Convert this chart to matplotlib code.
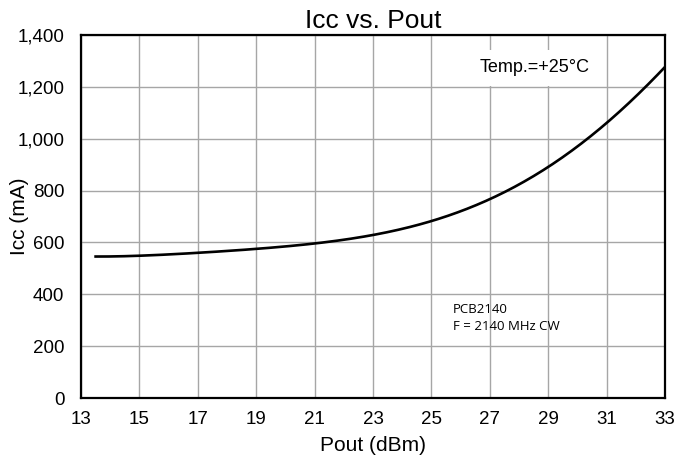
import numpy as np
import matplotlib
matplotlib.use("Agg")
import matplotlib.pyplot as plt
from matplotlib.ticker import FuncFormatter

plt.rcParams['font.family'] = ['Liberation Sans', 'DejaVu Sans']

# datos
pout = [13.5, 15, 17, 19, 21, 23, 25, 27, 29, 31, 33]
icc = [545, 550, 560, 573, 597, 629, 683, 768, 887, 1064, 1276]

fig = plt.figure(figsize=(6.9, 4.58), dpi=100)
ax = fig.add_axes([0.1174, 0.131, 0.8464, 0.7926])

# curva suave a partir de los puntos leidos
p = np.polyfit(pout, icc, 5)
xs = np.linspace(pout[0], pout[-1], 300)
ax.plot(xs, np.polyval(p, xs), color="black", lw=1.9, zorder=3)

ax.set_xlim(13, 33)
ax.set_ylim(0, 1400)
ax.set_xticks(np.arange(13, 34, 2))
ax.set_yticks(np.arange(0, 1401, 200))
ax.yaxis.set_major_formatter(FuncFormatter(lambda v, pos: f"{int(v):,}"))
ax.grid(True, color="#a6a6a6", lw=1.0)
ax.tick_params(axis="x", length=0, labelsize=13.5, pad=9)
ax.tick_params(axis="y", length=0, labelsize=13.5, pad=12)
for s in ax.spines.values():
    s.set_linewidth(1.6)
    s.set_color("black")

ax.set_title("Icc vs. Pout", fontsize=19, pad=5)
ax.set_xlabel("Pout (dBm)", fontsize=15, labelpad=6)
ax.set_ylabel("Icc (mA)", fontsize=15)
ax.yaxis.set_label_coords(-0.089, 0.5)

ax.text(28.55, 1273, "Temp.=+25°C", fontsize=13, ha="center", va="center",
        bbox=dict(facecolor="white", edgecolor="none", pad=7), zorder=4)
ax.text(25.74, 308, "PCB2140\nF = 2140 MHz CW", fontsize=9.5,
        family=["Open Sans", "DejaVu Sans"], ha="left", va="center",
        linespacing=1.4, zorder=4)

plt.savefig("out.png", dpi=100)
plt.close()
